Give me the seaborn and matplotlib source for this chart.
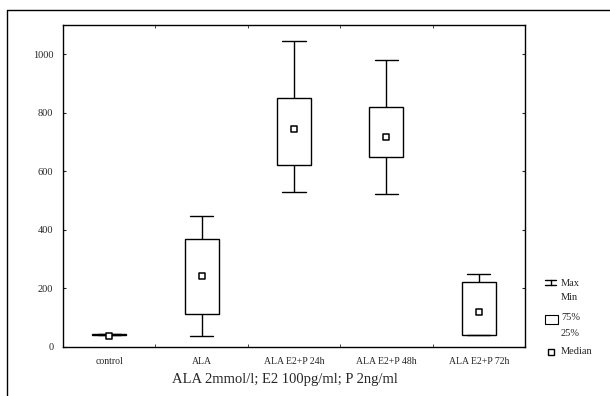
import numpy as np
import pandas as pd
import seaborn as sns
import matplotlib.pyplot as plt
from matplotlib.lines import Line2D
from matplotlib.patches import Rectangle

groups = ["control", "ALA", "ALA E2+P 24h", "ALA E2+P 48h", "ALA E2+P 72h"]
mins = [40, 39, 529, 522, 40]
q1s = [41, 113, 623, 650, 40]
q3s = [43, 368, 849, 819, 223]
maxs = [44, 447, 1045, 979, 249]
medians = [37, 241, 744, 718, 120]

# five-point summary per group -> box drawn with whis=(0, 100)
rows = []
for g, lo, a, m, b, hi in zip(groups, mins, q1s, medians, q3s, maxs):
    mid = min(max(m, a), b)
    for v in (lo, a, mid, b, hi):
        rows.append({"group": g, "value": v})
df = pd.DataFrame(rows)

sns.set_style("ticks")
plt.rcParams["font.family"] = ["Liberation Serif", "DejaVu Serif"]

W, H = 610, 396
fig = plt.figure(figsize=(W / 100, H / 100), dpi=100)
ax = fig.add_axes([63 / W, 1 - 347 / H, (525 - 63) / W, (347 - 25) / H])


def px(x, y):
    return x / W, 1 - y / H


sns.boxplot(
    data=df, x="group", y="value", order=groups, ax=ax,
    whis=(0, 100), width=0.37, color="white", linecolor="black",
    linewidth=1, showfliers=False, capwidths=0.25,
    medianprops={"visible": False},
)
sns.scatterplot(
    x=np.arange(len(groups)), y=medians, ax=ax, marker="s", s=24,
    color="white", edgecolor="black", linewidth=1.1, zorder=5, legend=False,
)

ax.set_xlim(-0.5, len(groups) - 0.5)
ax.set_ylim(0, 1100)
ax.set_xticks(range(len(groups)))
ax.set_xticklabels(groups, fontsize=7)
ax.set_xticks(np.arange(0.5, len(groups) - 1, 1), minor=True)
ax.set_yticks(range(0, 1001, 200))
ax.tick_params(axis="y", labelsize=7.5, direction="in", length=2,
               right=True, pad=7)
ax.tick_params(axis="x", which="major", length=0, pad=7)
ax.tick_params(axis="x", which="minor", direction="in", length=2, top=True)
for s in ax.spines.values():
    s.set_linewidth(1)
    s.set_color("black")
    s.set_visible(True)
ax.set_ylabel("")
ax.set_xlabel("ALA 2mmol/l; E2 100pg/ml; P 2ng/ml", fontsize=10.5, labelpad=7)
ax.xaxis.set_label_coords((285 - 63) / 462, -0.08)

# outer frame (left and top only visible)
fig.add_artist(Line2D([7 / W, 7 / W], [0, 1 - 10 / H], color="black", lw=1))
fig.add_artist(Line2D([7 / W, 1], [1 - 10 / H, 1 - 10 / H], color="black", lw=1))

# legend
lk = dict(color="black", lw=1, transform=fig.transFigure)
x0, x1, xc = 545, 556, 550.5
for y in (280, 285):
    fig.add_artist(Line2D(*zip(px(x0, y), px(x1, y)), **lk))
fig.add_artist(Line2D(*zip(px(xc, 280), px(xc, 285)), **lk))
fig.add_artist(Rectangle(px(545, 324), 13 / W, 9 / H, transform=fig.transFigure,
                         facecolor="white", edgecolor="black", lw=0.8))
fig.add_artist(Rectangle(px(548, 355), 6 / W, 6 / H, transform=fig.transFigure,
                         facecolor="white", edgecolor="black", lw=1))
tk = dict(fontsize=7.5, va="center", ha="left")
for label, y in [("Max", 284), ("Min", 298), ("75%", 318), ("25%", 333),
                 ("Median", 351)]:
    fig.text(*px(561, y), label, **tk)

fig.savefig("out.png", dpi=100)
